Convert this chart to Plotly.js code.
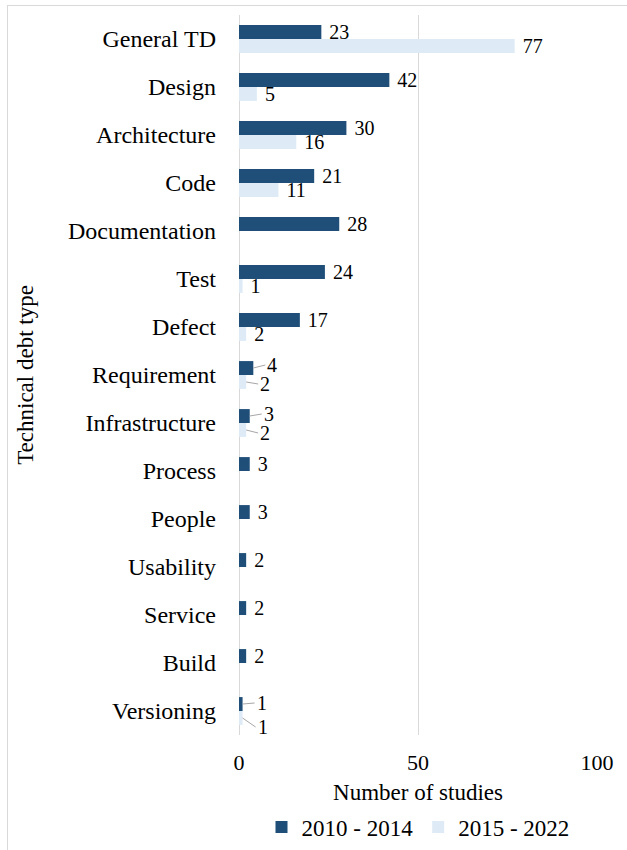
<!DOCTYPE html>
<html>
<head>
<meta charset="utf-8">
<script src="https://cdn.plot.ly/plotly-3.0.1.min.js"></script>
<style>
  html, body { margin: 0; padding: 0; background: #ffffff; overflow: hidden; }
  #frame { position: absolute; left: 7px; top: 5px; width: 700px; height: 900px;
           border-left: 1px solid #d9d9d9; border-top: 1px solid #d9d9d9; }
  #chart { position: absolute; left: 0; top: 0; width: 627px; height: 850px; }
</style>
</head>
<body>
<div id="frame"></div>
<div id="chart"></div>
<script>
// ---- data ----
const categories = ["General TD", "Design", "Architecture", "Code", "Documentation", "Test",
  "Defect", "Requirement", "Infrastructure", "Process", "People", "Usability", "Service",
  "Build", "Versioning"];
const series1Name = "2010 - 2014";
const series2Name = "2015 - 2022";
const series1 = [23, 42, 30, 21, 28, 24, 17, 4, 3, 3, 3, 2, 2, 2, 1];
const series2 = [77, 5, 16, 11, null, 1, 2, 2, 2, null, null, null, null, null, 1];
// categories whose labels use leader lines
const leaderCats = ["Requirement", "Infrastructure", "Versioning"];
const xTickVals = [0, 50, 100];

const darkBlue = "#1f4e79";
const lightBlue = "#deebf7";
const font = "'Liberation Serif', 'Times New Roman', serif";

function labels(vals) {
  return vals.map((v, i) => (v == null || leaderCats.includes(categories[i])) ? "" : "\u00a0" + String(v));
}

const traces = [
  { type: "bar", orientation: "h", name: series1Name, y: categories, x: series1,
    marker: { color: darkBlue }, text: labels(series1), textposition: "outside",
    constraintext: "none", cliponaxis: false,
    textfont: { family: font, size: 20, color: "#000" }, hoverinfo: "x+y" },
  { type: "bar", orientation: "h", name: series2Name, y: categories, x: series2,
    marker: { color: lightBlue }, text: labels(series2), textposition: "outside",
    constraintext: "none", cliponaxis: false,
    textfont: { family: font, size: 20, color: "#000" }, hoverinfo: "x+y" }
];

// leader-line label offsets (px) : [ax, ay] for dark, light
const leaderOffsets = {
  "Requirement": [[12, -3], [12, 2]],
  "Infrastructure": [[12, -2], [12, 3]],
  "Versioning": [[12, -1], [13, 9]]
};
const annotations = [];
leaderCats.forEach(c => {
  const i = categories.indexOf(c);
  [series1, series2].forEach((s, k) => {
    if (s[i] == null) return;
    const [ax, ay] = leaderOffsets[c][k];
    annotations.push({
      x: s[i], y: c, xref: "x", yref: "y", yshift: k === 0 ? 7 : -7,
      text: String(s[i]), showarrow: true, arrowhead: 0, arrowwidth: 1,
      arrowcolor: "#a6a6a6", ax: ax, ay: ay, xanchor: "left", yanchor: "middle",
      font: { family: font, size: 20, color: "#000" }
    });
  });
});

const layout = {
  width: 627, height: 850,
  paper_bgcolor: "rgba(0,0,0,0)", plot_bgcolor: "rgba(0,0,0,0)",
  margin: { l: 239, r: 30, t: 15, b: 115, autoexpand: false },
  barmode: "group", bargap: 0.42, bargroupgap: 0,
  font: { family: font, color: "#000" },
  xaxis: {
    range: [0, 100], tickvals: xTickVals, ticks: "", showline: false, automargin: false,
    showgrid: true, gridcolor: "#d9d9d9", gridwidth: 1, zeroline: true,
    zerolinecolor: "#d9d9d9", zerolinewidth: 1,
    tickfont: { family: font, size: 22, color: "#000" }, ticklabelstandoff: 12,
    title: { text: "Number of studies", font: { family: font, size: 23, color: "#000" }, standoff: 9 }
  },
  yaxis: {
    type: "category", autorange: "reversed", ticks: "", showline: false, showgrid: false,
    automargin: false,
    tickfont: { family: font, size: 24, color: "#000" }, ticklabelstandoff: 22,
    title: { text: "Technical debt type", font: { family: font, size: 23, color: "#000" }, standoff: 27 }
  },
  showlegend: true,
  legend: {
    orientation: "h", x: 0.5, xanchor: "center", y: -0.1278, yanchor: "middle",
    font: { family: font, size: 23, color: "#000" }, itemwidth: 30, traceorder: "normal"
  },
  annotations: annotations
};

Plotly.newPlot("chart", traces, layout, { displayModeBar: false, staticPlot: true });
</script>
</body>
</html>
